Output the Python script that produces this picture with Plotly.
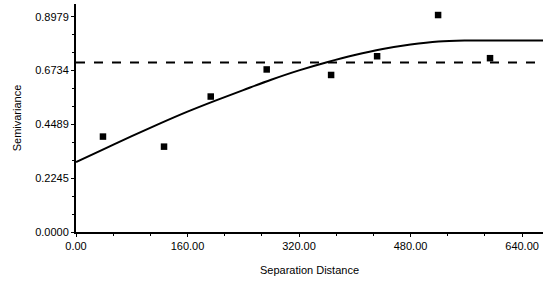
import plotly.graph_objects as go

# observed semivariance points
sep_dist = [38.7, 126.3, 193.3, 273.6, 366.0, 432.0, 519.5, 594.0]
semivar = [0.398, 0.356, 0.565, 0.678, 0.655, 0.733, 0.905, 0.725]

# fitted model curve
model_x = [0, 40, 80, 120, 160, 200, 240, 280, 320, 360, 400, 440, 480, 520, 560, 600, 670]
model_y = [0.292, 0.346, 0.400, 0.452, 0.502, 0.548, 0.592, 0.635, 0.674, 0.708, 0.738, 0.763, 0.782, 0.795, 0.799, 0.799, 0.799]

# horizontal dashed reference (sample variance)
ref_x = [0, 670]
ref_y = [0.7066, 0.7066]

x_ticks = [0, 160, 320, 480, 640]
x_ticktext = ["0.00", "160.00", "320.00", "480.00", "640.00"]
y_ticks = [0.0, 0.2245, 0.4489, 0.6734, 0.8979]
y_ticktext = ["0.0000", "0.2245", "0.4489", "0.6734", "0.8979"]
x_minor = [53.33, 106.67, 213.33, 266.67, 373.33, 426.67, 533.33, 586.67]
y_minor = [0.0748, 0.1497, 0.2993, 0.3741, 0.5237, 0.5986, 0.7482, 0.8231]

fig = go.Figure()
fig.add_trace(go.Scatter(x=ref_x, y=ref_y, mode="lines",
                         line=dict(color="black", width=2, dash="dash"),
                         showlegend=False))
fig.add_trace(go.Scatter(x=model_x, y=model_y, mode="lines",
                         line=dict(color="black", width=2, shape="spline"),
                         showlegend=False))
fig.add_trace(go.Scatter(x=sep_dist, y=semivar, mode="markers",
                         marker=dict(symbol="square", size=6.5, color="black"),
                         showlegend=False))

font = dict(family="Liberation Sans, Arial, sans-serif", size=11, color="black")
fig.update_layout(
    width=552, height=281,
    margin=dict(l=76, r=9, t=4, b=49, autoexpand=False),
    paper_bgcolor="white", plot_bgcolor="white",
    font=font,
    xaxis=dict(range=[0, 670], showgrid=False, zeroline=False, automargin=False,
               showline=True, linecolor="black", linewidth=2,
               tickvals=x_ticks, ticktext=x_ticktext,
               ticks="outside", ticklen=3, tickwidth=1, tickcolor="black",
               minor=dict(tickvals=x_minor, ticks="outside", ticklen=2, tickcolor="black"),
               title=dict(text="Separation Distance", font=font, standoff=15)),
    yaxis=dict(range=[0, 0.951], showgrid=False, zeroline=False, automargin=False,
               showline=True, linecolor="black", linewidth=2,
               tickvals=y_ticks, ticktext=y_ticktext,
               ticks="outside", ticklen=3, tickwidth=1, tickcolor="black",
               minor=dict(tickvals=y_minor, ticks="outside", ticklen=2, tickcolor="black"),
               title=dict(text="Semivariance", font=font, standoff=11)),
)
fig.write_html("out.html", config={"displayModeBar": False},
               post_script="document.body.style.margin='0px';")
